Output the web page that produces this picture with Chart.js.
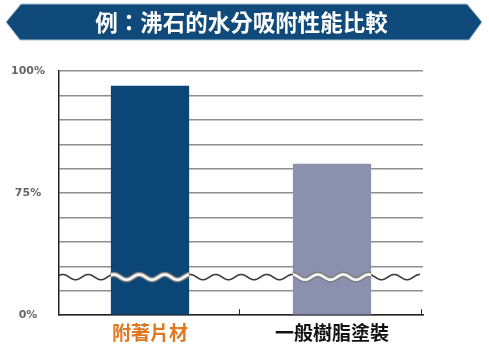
<!DOCTYPE html>
<html>
<head>
<meta charset="utf-8">
<script src="https://cdn.jsdelivr.net/npm/chart.js@4"></script>
<style>
html, body { margin: 0; padding: 0; background: #fff; }
#wrap { width: 489px; height: 355px; position: relative; }
</style>
</head>
<body>
<div id="wrap"><canvas id="chart"></canvas></div>
<script>
// data (upper part of the axis is linear, 75% -> 100%)
const TITLE = "例：沸石的水分吸附性能比較";
const CATEGORIES = ["附著片材", "一般樹脂塗裝"];
const VALUES = [97, 81];
const TICK_VALUES = [100, 75, 50];
const TICK_TEXTS = ["100%", "75%", "0%"];

const BAR_COLORS = ["#0b4677", "#8a90ad"];
const LABEL_COLORS = ["#e07820", "#111111"];
const BANNER_COLOR = "#0f4a7b";
const GRID_COLOR = "#8e8e8e";
const CJK = "'Noto Sans CJK TC', 'Noto Sans CJK JP', sans-serif";

// break position on the axis, between the two lowest grid lines
const BREAK_VALUE = 57.8;

const bannerPlugin = {
    id: "banner",
    beforeDraw(chart) {
        const ctx = chart.ctx;
        ctx.save();
        ctx.beginPath();
        ctx.moveTo(6, 22);
        ctx.lineTo(21, 4);
        ctx.lineTo(467, 4);
        ctx.lineTo(482, 22);
        ctx.lineTo(469, 40);
        ctx.lineTo(20, 40);
        ctx.closePath();
        ctx.fillStyle = BANNER_COLOR;
        ctx.fill();
        ctx.strokeStyle = "#a9c0d6";
        ctx.lineWidth = 1;
        ctx.stroke();
        ctx.fillStyle = "#ffffff";
        ctx.font = "bold 22.5px " + CJK;
        ctx.textAlign = "center";
        ctx.textBaseline = "middle";
        ctx.fillText(TITLE, 241.5, 22.5);
        ctx.restore();
    }
};

function wavePath(ctx, x0, x1, yc) {
    const period = 25.5, amp = 2.6;
    ctx.beginPath();
    for (let x = x0; x <= x1; x += 0.5) {
        const y = yc + amp * Math.sin(2 * Math.PI * (x - 203) / period + Math.PI / 2);
        if (x === x0) ctx.moveTo(x, y); else ctx.lineTo(x, y);
    }
}

const breakPlugin = {
    id: "axisBreak",
    afterDatasetsDraw(chart) {
        const ctx = chart.ctx;
        const area = chart.chartArea;
        const yc = chart.scales.y.getPixelForValue(BREAK_VALUE);
        ctx.save();
        wavePath(ctx, area.left, area.right - 3, yc);
        ctx.strokeStyle = "#3a3a3a";
        ctx.lineWidth = 1.6;
        ctx.stroke();
        chart.getDatasetMeta(0).data.forEach(bar => {
            ctx.save();
            ctx.beginPath();
            ctx.rect(bar.x - bar.width / 2, bar.y, bar.width, bar.base - bar.y);
            ctx.clip();
            wavePath(ctx, area.left, area.right - 3, yc);
            ctx.strokeStyle = "#7d7d7d";
            ctx.lineWidth = 5.5;
            ctx.stroke();
            ctx.strokeStyle = "#f4f4f4";
            ctx.lineWidth = 2.8;
            ctx.stroke();
            ctx.restore();
        });
        // small inner tick marks on the bottom axis between categories
        const xs = chart.scales.x;
        const half = (xs.getPixelForValue(1) - xs.getPixelForValue(0)) / 2;
        ctx.strokeStyle = "#222";
        ctx.lineWidth = 1;
        CATEGORIES.forEach((c, i) => {
            const x = Math.round(xs.getPixelForValue(i) + half) - 1.5;
            ctx.beginPath();
            ctx.moveTo(x, area.bottom);
            ctx.lineTo(x, area.bottom - 6);
            ctx.stroke();
        });
        ctx.restore();
    }
};

const ctx = document.querySelector("#chart").getContext("2d");
new Chart(ctx, {
    type: "bar",
    data: {
        labels: CATEGORIES,
        datasets: [{
            data: VALUES,
            base: 50,
            backgroundColor: BAR_COLORS,
            barPercentage: 0.43,
            categoryPercentage: 1
        }]
    },
    options: {
        responsive: true,
        maintainAspectRatio: false,
        animation: false,
        layout: {
            padding: { left: 12, right: 66, top: 71, bottom: 5 }
        },
        scales: {
            x: {
                grid: { display: false, drawTicks: false },
                border: { display: true, color: "#222", width: 1.5 },
                ticks: {
                    padding: 6,
                    color: (c) => LABEL_COLORS[c.index],
                    font: { family: CJK, size: 19, weight: "bold" }
                }
            },
            y: {
                min: 50,
                max: 100,
                afterFit(scale) { scale.width = 47; },
                grid: { color: GRID_COLOR, lineWidth: 1.5, drawTicks: false },
                border: { display: true, color: "#222", width: 1.5 },
                ticks: {
                    stepSize: 5,
                    autoSkip: false,
                    padding: 14,
                    crossAlign: "center",
                    color: "#666",
                    font: { family: "'DejaVu Sans', sans-serif", size: 11, weight: "bold" },
                    callback: (value) => {
                        const i = TICK_VALUES.indexOf(value);
                        return i >= 0 ? TICK_TEXTS[i] : "";
                    }
                }
            }
        },
        plugins: {
            legend: { display: false },
            tooltip: { enabled: false },
            title: { display: false }
        }
    },
    plugins: [bannerPlugin, breakPlugin]
});
</script>
</body>
</html>
